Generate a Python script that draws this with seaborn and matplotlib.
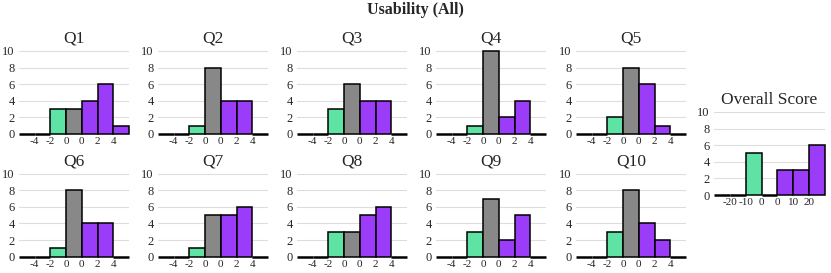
import matplotlib
matplotlib.use("Agg")
import matplotlib.pyplot as plt
import seaborn as sns
import pandas as pd

# ---- data ----
questions = ["Q1", "Q2", "Q3", "Q4", "Q5", "Q6", "Q7", "Q8", "Q9", "Q10"]
q1 = [0, 0, 3, 3, 4, 6, 1]
q2 = [0, 0, 1, 8, 4, 4, 0]
q3 = [0, 0, 3, 6, 4, 4, 0]
q4 = [0, 0, 1, 10, 2, 4, 0]
q5 = [0, 0, 2, 8, 6, 1, 0]
q6 = [0, 0, 1, 8, 4, 4, 0]
q7 = [0, 0, 1, 5, 5, 6, 0]
q8 = [0, 0, 3, 3, 5, 6, 0]
q9 = [0, 0, 3, 7, 2, 5, 0]
q10 = [0, 0, 3, 8, 4, 2, 0]
overall = [0, 0, 5, 0, 3, 3, 6]
q_tick_labels = ["-4", "-2", "0", "0", "2", "4"]
overall_tick_labels = ["-20", "-10", "0", "0", "10", "20"]
bin_names = ["b0", "b1", "b2", "b3", "b4", "b5", "b6"]
y_ticks = [0, 2, 4, 6, 8, 10]

GREEN = "#5fe3a5"
GRAY = "#888888"
PURPLE = "#9b3cf8"
palette = [GREEN, GREEN, GREEN, GRAY, PURPLE, PURPLE, PURPLE]

sns.set_theme(style="white")
plt.rcParams["font.family"] = ["Liberation Serif", "DejaVu Serif"]

fig = plt.figure(figsize=(8.31, 2.73), dpi=100)
W, H = 831, 273


def draw(rect_px, counts, title, ticklabels):
    left, bottom0, width = rect_px
    height = 85.5
    ax = fig.add_axes([left / W, (H - bottom0) / H, width / W, height / H])
    df = pd.DataFrame({"bin": bin_names, "count": counts})
    sns.barplot(data=df, x="bin", y="count", hue="bin", palette=palette,
                saturation=1, width=1.0, edgecolor="black", linewidth=1.1,
                legend=False, ax=ax, zorder=3)
    for p in ax.patches:
        p.set_clip_on(False)
        if p.get_height() == 0:
            p.set_linewidth(1.8)
    ax.set_xlim(-0.5, 6.5)
    ax.set_ylim(0, 10.3)
    ax.set_yticks(y_ticks)
    ax.set_yticklabels([str(t) for t in y_ticks], fontsize=9)
    ax.set_xticks([0.5, 1.5, 2.5, 3.5, 4.5, 5.5])
    ax.set_xticklabels(ticklabels, fontsize=8)
    ax.tick_params(axis="y", length=0, pad=3)
    ax.tick_params(axis="x", length=0, pad=2.5)
    ax.set_xlabel("")
    ax.set_ylabel("")
    for s in ax.spines.values():
        s.set_visible(False)
    ax.yaxis.grid(True, color="#dddddd", linewidth=0.8, zorder=0)
    ax.set_axisbelow(True)
    ax.set_title(title, fontsize=12.5, pad=4)
    return ax


all_q = [q1, q2, q3, q4, q5, q6, q7, q8, q9, q10]
lefts = [19, 158, 297, 436, 576]
for i, (name, vals) in enumerate(zip(questions, all_q)):
    r, c = divmod(i, 5)
    base = 134 if r == 0 else 256.7
    draw((lefts[c], base, 110), vals, name, q_tick_labels)

draw((714, 195, 111), overall, "Overall Score", overall_tick_labels)

fig.text(0.5, 1 - 10 / H, "Usability (All)", ha="center", va="center",
         fontsize=11.5, fontweight="bold")

fig.savefig("out.png", dpi=100)
